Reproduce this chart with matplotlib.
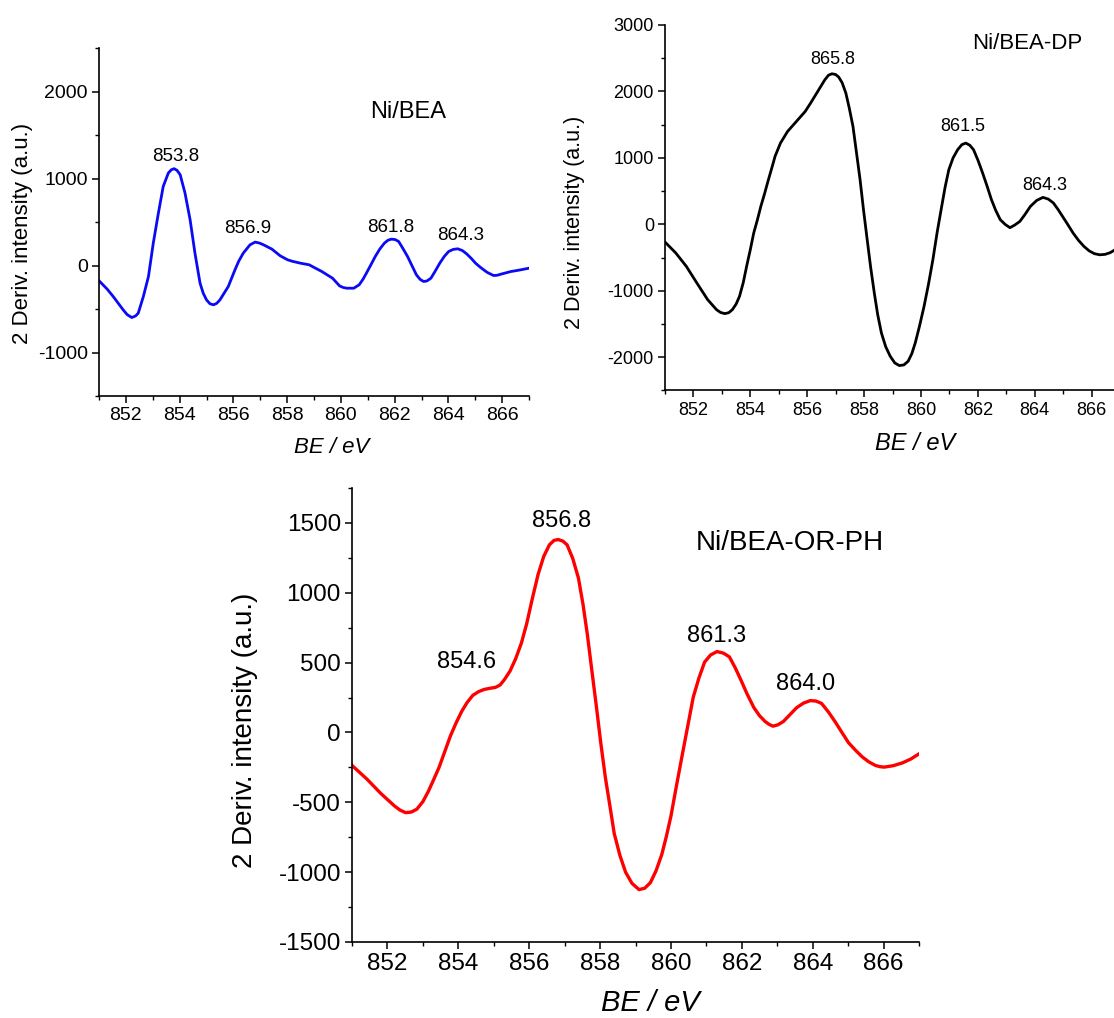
import matplotlib
matplotlib.use("Agg")
import matplotlib.pyplot as plt
from matplotlib.ticker import MultipleLocator

plt.rcParams['font.family'] = ['Liberation Sans', 'DejaVu Sans']
plt.rcParams['axes.unicode_minus'] = False

# ---------------- data ----------------
be_a = [851.0, 851.3, 851.53, 851.9, 852.05, 852.22, 852.36, 852.46, 852.65, 852.84,
        853.02, 853.21, 853.39, 853.58, 853.69, 853.79, 853.9, 854.02, 854.2, 854.39,
        854.57, 854.76, 854.88, 855.0, 855.13, 855.26, 855.38, 855.5, 855.81, 856.06,
        856.2, 856.37, 856.62, 856.81, 856.97, 857.12, 857.43, 857.74, 858.02, 858.2,
        858.49, 858.82, 859.05, 859.29, 859.69, 859.95, 860.08, 860.22, 860.48, 860.68,
        860.82, 860.95, 861.12, 861.28, 861.45, 861.62, 861.75, 861.88, 862.02, 862.15,
        862.3, 862.48, 862.65, 862.81, 862.95, 863.08, 863.2, 863.35, 863.5, 863.68,
        863.85, 864.01, 864.18, 864.35, 864.52, 864.68, 864.85, 865.01, 865.15, 865.28,
        865.45, 865.68, 865.82, 865.95, 866.33, 866.6, 867.0]
int_a = [-175, -270, -357, -510, -565, -598, -580, -548, -357, -127,
         258, 603, 909, 1063, 1100, 1113, 1095, 1044, 833, 526,
         143, -203, -320, -395, -440, -452, -435, -395, -242, -49,
         50, 143, 238, 269, 258, 238, 189, 112, 65, 48,
         27, 8, -30, -69, -146, -234, -252, -261, -261, -222,
         -160, -88, 10, 104, 190, 257, 290, 303, 298, 276,
         200, 104, -5, -107, -160, -184, -178, -146, -70, 27,
         105, 161, 185, 192, 172, 134, 82, 27, -10, -42,
         -80, -115, -112, -100, -69, -55, -31]

be_dp = [851.0, 851.38, 851.75, 852.12, 852.5, 852.81, 852.95, 853.1, 853.24, 853.37,
         853.5, 853.62, 853.75, 853.87, 854.0, 854.12, 854.25, 854.37, 854.5, 854.62,
         854.75, 854.87, 855.06, 855.31, 855.62, 855.93, 856.12, 856.37, 856.62, 856.75,
         856.87, 857.0, 857.11, 857.23, 857.36, 857.48, 857.61, 857.73, 857.86, 857.98,
         858.11, 858.23, 858.36, 858.48, 858.61, 858.76, 858.92, 859.08, 859.24, 859.4,
         859.55, 859.68, 859.8, 859.95, 860.11, 860.27, 860.42, 860.57, 860.73, 860.85,
         860.98, 861.13, 861.29, 861.44, 861.58, 861.72, 861.85, 862.01, 862.17, 862.33,
         862.48, 862.63, 862.79, 862.96, 863.13, 863.3, 863.48, 863.66, 863.85, 864.07,
         864.29, 864.48, 864.66, 864.82, 864.98, 865.16, 865.35, 865.54, 865.73, 865.92,
         866.1, 866.29, 866.48, 866.66, 866.83, 867.0]
int_dp = [-266, -431, -632, -882, -1133, -1283, -1325, -1343, -1330, -1283,
          -1200, -1083, -880, -632, -380, -130, 70, 271, 460, 647,
          840, 1023, 1223, 1398, 1549, 1699, 1825, 2000, 2175, 2245,
          2266, 2255, 2216, 2130, 1975, 1750, 1474, 1090, 672, 220,
          -231, -640, -1033, -1360, -1634, -1840, -1985, -2085, -2125, -2115,
          -2060, -1945, -1784, -1530, -1233, -890, -531, -120, 271, 560,
          822, 1000, 1123, 1200, 1223, 1190, 1123, 960, 772, 570,
          371, 210, 70, 0, -50, -10, 45, 150, 271, 360,
          406, 380, 321, 225, 120, 0, -130, -240, -331, -400,
          -441, -458, -451, -425, -381, -340]

be_or = [851.0, 851.43, 851.81, 852.19, 852.35, 852.51, 852.67, 852.83, 853.0, 853.15,
         853.3, 853.46, 853.62, 853.78, 853.94, 854.1, 854.25, 854.41, 854.57, 854.73,
         854.89, 855.05, 855.18, 855.3, 855.46, 855.62, 855.78, 855.93, 856.09, 856.25,
         856.41, 856.57, 856.7, 856.82, 856.95, 857.07, 857.23, 857.39, 857.52, 857.64,
         857.77, 857.9, 858.02, 858.15, 858.28, 858.4, 858.56, 858.72, 858.9, 859.1,
         859.26, 859.42, 859.58, 859.74, 859.87, 860.0, 860.15, 860.31, 860.47, 860.63,
         860.79, 860.95, 861.12, 861.3, 861.48, 861.65, 861.81, 861.97, 862.15, 862.34,
         862.5, 862.66, 862.77, 862.88, 863.02, 863.17, 863.36, 863.55, 863.74, 863.93,
         864.09, 864.25, 864.44, 864.63, 864.82, 865.01, 865.2, 865.39, 865.58, 865.77,
         865.9, 866.02, 866.27, 866.53, 866.77, 867.0]
int_or = [-236, -336, -436, -524, -555, -574, -570, -549, -495, -424,
          -340, -248, -135, -23, 70, 153, 215, 266, 292, 308,
          316, 323, 340, 378, 440, 529, 640, 779, 960, 1130,
          1260, 1343, 1375, 1381, 1370, 1343, 1245, 1105, 915, 704,
          440, 178, -75, -323, -530, -724, -880, -1000, -1080, -1125,
          -1115, -1075, -990, -875, -745, -599, -390, -173, 40, 253,
          390, 504, 555, 579, 568, 541, 465, 378, 275, 178,
          120, 78, 58, 45, 55, 78, 128, 178, 210, 228,
          225, 208, 148, 78, 2, -73, -125, -173, -210, -236,
          -245, -248, -238, -218, -190, -153]

peaks_a = ["853.8", "856.9", "861.8", "864.3"]
peaks_dp = ["865.8", "861.5", "864.3"]
peaks_or = ["856.8", "854.6", "861.3", "864.0"]
names = ["Ni/BEA", "Ni/BEA-DP", "Ni/BEA-OR-PH"]
xlabel = "BE / eV"
ylabel = "2 Deriv. intensity (a.u.)"

W, H = 1114, 1018
fig = plt.figure(figsize=(W / 100, H / 100), dpi=100)


def make_axes(px_left, px_top, px_right, px_bottom):
    return fig.add_axes([px_left / W, 1 - px_bottom / H,
                         (px_right - px_left) / W, (px_bottom - px_top) / H])


def style(ax, ylim, ymaj, ymin, tsize):
    ax.set_xlim(851, 867)
    ax.set_ylim(*ylim)
    for s in ("top", "right"):
        ax.spines[s].set_visible(False)
    for s in ("left", "bottom"):
        ax.spines[s].set_linewidth(1.2)
    ax.xaxis.set_major_locator(MultipleLocator(2))
    ax.xaxis.set_minor_locator(MultipleLocator(1))
    ax.yaxis.set_major_locator(MultipleLocator(ymaj))
    ax.yaxis.set_minor_locator(MultipleLocator(ymin))
    ax.tick_params(which="major", direction="out", length=5, width=1.1,
                   labelsize=tsize, pad=3)
    ax.tick_params(which="minor", direction="out", length=3, width=1.0)
    ax.set_facecolor("none")


# ---- top-left: Ni/BEA ----
ax1 = make_axes(99, 48, 529, 396)
ax1.plot(be_a, int_a, color="#0a0af5", lw=2.0, solid_joinstyle="round")
style(ax1, (-1500, 2500), 1000, 500, 14)
ax1.set_xlabel(xlabel, fontsize=16, style="italic", va="center")
ax1.xaxis.set_label_coords(0.542, -0.147)
ax1.set_ylabel(ylabel, fontsize=16, va="center")
ax1.yaxis.set_label_coords(-0.177, 0.466)
for lab, (x, y) in zip(peaks_a, [(853.85, 1250), (856.55, 422), (861.87, 434), (864.44, 342)]):
    ax1.text(x, y, lab, fontsize=13.5, ha="center", va="center")
ax1.text(862.5, 1769, names[0], fontsize=17, ha="center", va="center")

# ---- top-right: Ni/BEA-DP ----
ax2 = make_axes(665, 25, 1120, 390.5)
ax2.plot(be_dp, int_dp, color="black", lw=2.0, solid_joinstyle="round")
style(ax2, (-2500, 3000), 1000, 500, 13)
ax2.set_xlabel(xlabel, fontsize=17, style="italic", va="center")
ax2.xaxis.set_label_coords(0.549, -0.144)
ax2.set_ylabel(ylabel, fontsize=15.5, va="center")
ax2.yaxis.set_label_coords(-0.198, 0.461)
for lab, (x, y) in zip(peaks_dp, [(856.9, 2484), (861.47, 1474), (864.35, 584)]):
    ax2.text(x, y, lab, fontsize=13, ha="center", va="center")
ax2.text(863.75, 2725, names[1], fontsize=16, ha="center", va="center")

# ---- bottom: Ni/BEA-OR-PH ----
ax3 = make_axes(352, 488, 919, 942)
ax3.plot(be_or, int_or, color="#ff0000", lw=2.4, solid_joinstyle="round")
style(ax3, (-1500, 1750), 500, 250, 17.5)
ax3.set_xlabel(xlabel, fontsize=21, style="italic", va="center")
ax3.xaxis.set_label_coords(0.527, -0.134)
ax3.set_ylabel(ylabel, fontsize=20, va="center")
ax3.yaxis.set_label_coords(-0.189, 0.467)
for lab, (x, y) in zip(peaks_or, [(856.9, 1514), (854.24, 504), (861.3, 690), (863.81, 346)]):
    ax3.text(x, y, lab, fontsize=17, ha="center", va="center")
ax3.text(863.36, 1356, names[2], fontsize=20, ha="center", va="center")

fig.savefig("out.png", dpi=100)
